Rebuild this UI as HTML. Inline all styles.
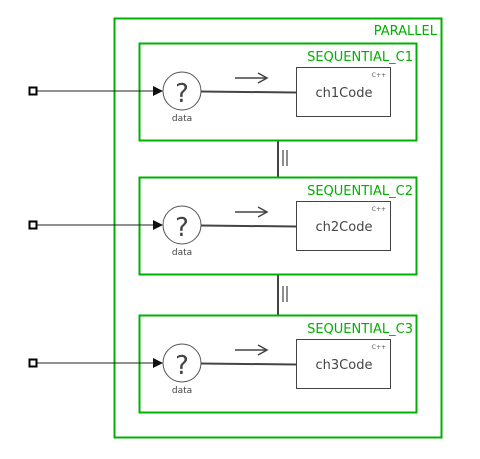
<!DOCTYPE html>
<html><head><style>body{margin:0;background:#fff}svg{display:block}</style></head><body>
<svg width="480" height="459" xmlns="http://www.w3.org/2000/svg" font-family="DejaVu Sans, Liberation Sans, sans-serif">
<rect x="114.5" y="18.5" width="327" height="419" fill="none" stroke="#00b000" stroke-width="2"/>
<text x="437" y="35" font-size="13" fill="#00b000" text-anchor="end">PARALLEL</text>
<g stroke="#444" stroke-width="2">
<line x1="278" y1="141" x2="278" y2="177"/><line x1="283" y1="150" x2="283" y2="166" stroke-width="1.2"/><line x1="287" y1="150" x2="287" y2="166" stroke-width="1.2"/>
<line x1="278" y1="275" x2="278" y2="315"/><line x1="283" y1="286" x2="283" y2="302" stroke-width="1.2"/><line x1="287" y1="286" x2="287" y2="302" stroke-width="1.2"/>
</g>
<g id="s1">
<rect x="139.5" y="43.5" width="277" height="97" fill="none" stroke="#00b000" stroke-width="2"/>
<text x="413" y="61" font-size="13" fill="#00b000" text-anchor="end">SEQUENTIAL_C1</text>
<line x1="37" y1="91" x2="155" y2="91" stroke="#222" stroke-width="1"/>
<rect x="29.5" y="87.5" width="7" height="7" fill="#fff" stroke="#000" stroke-width="2"/>
<polygon points="153,86 163,91 153,96" fill="#111"/>
<circle cx="182" cy="91" r="19" fill="#fff" stroke="#555"/>
<text x="182" y="102" font-size="26" fill="#444" text-anchor="middle">?</text>
<text x="182" y="121" font-size="9" fill="#444" text-anchor="middle">data</text>
<line x1="201" y1="91.5" x2="296" y2="92.5" stroke="#444" stroke-width="2"/>
<line x1="235" y1="78" x2="266" y2="78" stroke="#444" stroke-width="1.5"/>
<polyline points="258,73 267,78 258,83" fill="none" stroke="#444" stroke-width="1.5"/>
<rect x="296.5" y="67.5" width="94" height="49" fill="#fff" stroke="#444"/>
<text x="344" y="97" font-size="13" fill="#444" text-anchor="middle">ch1Code</text>
<text x="386" y="77" font-size="6" fill="#555" text-anchor="end">C++</text>
</g>
<g transform="translate(0,134)">
<rect x="139.5" y="43.5" width="277" height="97" fill="none" stroke="#00b000" stroke-width="2"/>
<text x="413" y="61" font-size="13" fill="#00b000" text-anchor="end">SEQUENTIAL_C2</text>
<line x1="37" y1="91" x2="155" y2="91" stroke="#222" stroke-width="1"/>
<rect x="29.5" y="87.5" width="7" height="7" fill="#fff" stroke="#000" stroke-width="2"/>
<polygon points="153,86 163,91 153,96" fill="#111"/>
<circle cx="182" cy="91" r="19" fill="#fff" stroke="#555"/>
<text x="182" y="102" font-size="26" fill="#444" text-anchor="middle">?</text>
<text x="182" y="121" font-size="9" fill="#444" text-anchor="middle">data</text>
<line x1="201" y1="91.5" x2="296" y2="92.5" stroke="#444" stroke-width="2"/>
<line x1="235" y1="78" x2="266" y2="78" stroke="#444" stroke-width="1.5"/>
<polyline points="258,73 267,78 258,83" fill="none" stroke="#444" stroke-width="1.5"/>
<rect x="296.5" y="67.5" width="94" height="49" fill="#fff" stroke="#444"/>
<text x="344" y="97" font-size="13" fill="#444" text-anchor="middle">ch2Code</text>
<text x="386" y="77" font-size="6" fill="#555" text-anchor="end">C++</text>
</g>
<g transform="translate(0,272)">
<rect x="139.5" y="43.5" width="277" height="97" fill="none" stroke="#00b000" stroke-width="2"/>
<text x="413" y="61" font-size="13" fill="#00b000" text-anchor="end">SEQUENTIAL_C3</text>
<line x1="37" y1="91" x2="155" y2="91" stroke="#222" stroke-width="1"/>
<rect x="29.5" y="87.5" width="7" height="7" fill="#fff" stroke="#000" stroke-width="2"/>
<polygon points="153,86 163,91 153,96" fill="#111"/>
<circle cx="182" cy="91" r="19" fill="#fff" stroke="#555"/>
<text x="182" y="102" font-size="26" fill="#444" text-anchor="middle">?</text>
<text x="182" y="121" font-size="9" fill="#444" text-anchor="middle">data</text>
<line x1="201" y1="91.5" x2="296" y2="92.5" stroke="#444" stroke-width="2"/>
<line x1="235" y1="78" x2="266" y2="78" stroke="#444" stroke-width="1.5"/>
<polyline points="258,73 267,78 258,83" fill="none" stroke="#444" stroke-width="1.5"/>
<rect x="296.5" y="67.5" width="94" height="49" fill="#fff" stroke="#444"/>
<text x="344" y="97" font-size="13" fill="#444" text-anchor="middle">ch3Code</text>
<text x="386" y="77" font-size="6" fill="#555" text-anchor="end">C++</text>
</g>
</svg>
</body></html>
